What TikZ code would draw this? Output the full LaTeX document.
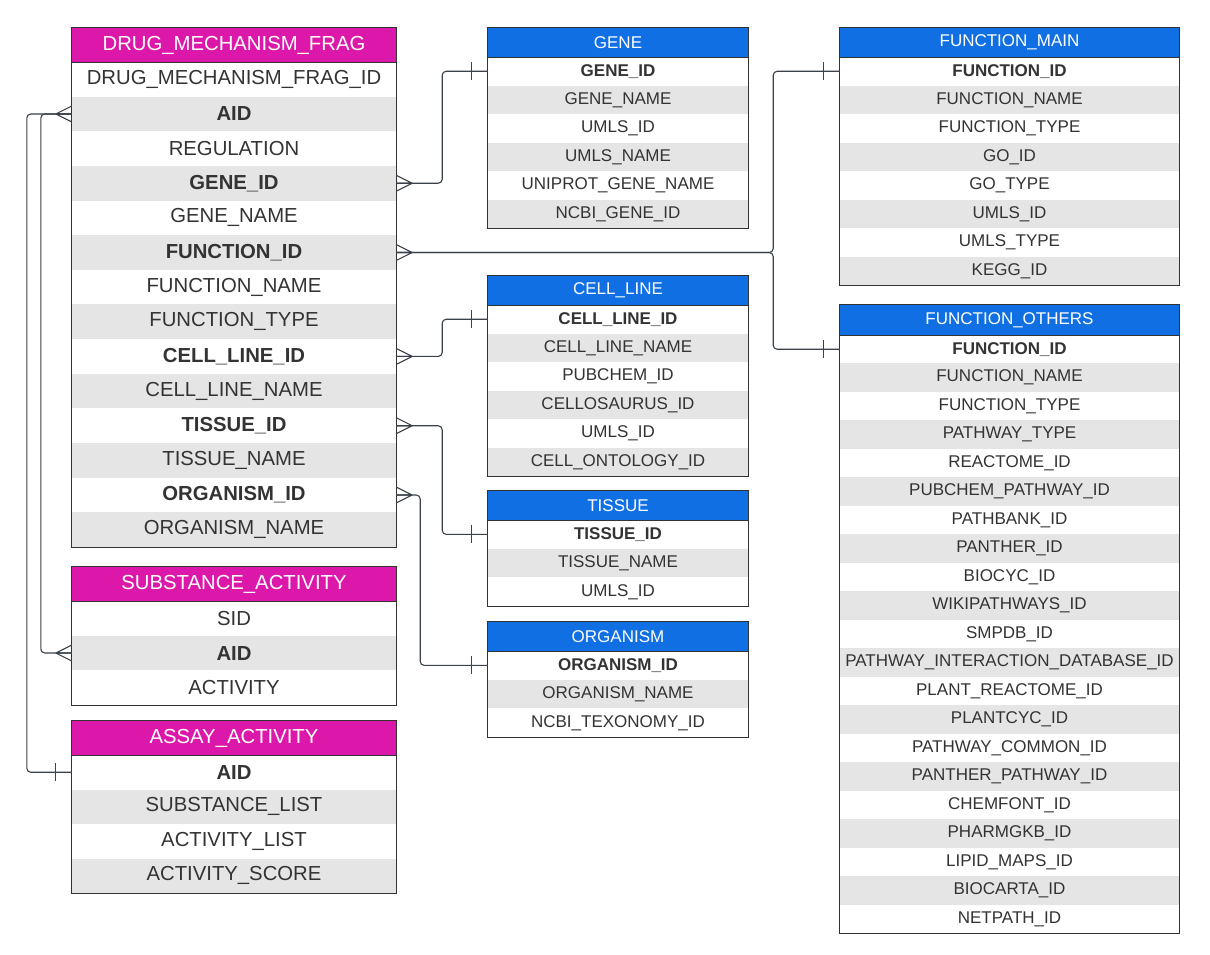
\documentclass[tikz,border=0pt]{standalone}
\usepackage{fontspec}
\setmainfont{Liberation Sans}
\usetikzlibrary{calc}
\definecolor{magh}{RGB}{219,24,170}
\definecolor{blueh}{RGB}{16,112,227}
\definecolor{rowgray}{RGB}{229,229,229}
\definecolor{txt}{RGB}{51,51,51}
\definecolor{bord}{RGB}{51,51,51}
\definecolor{linec}{RGB}{58,65,74}
\def\tabfont{\fontsize{17}{20}\selectfont}
\tikzset{
  hdr/.style={inner sep=0pt, text=white, font=\tabfont, draw=none},
  cell/.style={inner sep=0pt, text=txt, font=\tabfont, draw=none},
  tabborder/.style={draw=bord, line width=1.1pt},
  conn/.style={draw=linec, line width=1.1pt, rounded corners=4pt},
  markl/.style={draw=linec, line width=1.1pt},
}
\newcommand{\ertable}[9]{%
  \node[hdr, fill=#7, minimum width=#4pt, minimum height=#5pt] (#1-h) at ({#2+#4/2},{#3+#5/2}) {#8};
  \foreach \t [count=\i] in {#9} {%
    \ifodd\i \def\fc{white}\else \def\fc{rowgray}\fi
    \node[cell, fill=\fc, minimum width=#4pt, minimum height=#6pt] (#1-\i) at ({#2+#4/2},{#3+#5+(\i-0.5)*#6}) {\t};
    \xdef\lastrow{\i}%
  }
  \draw[tabborder] (#1-h.north west) rectangle (#1-\lastrow.south east);
  \draw[tabborder] (#1-h.south west) -- (#1-h.south east);
}
\newcommand{\crowR}[1]{\draw[markl] ($(#1)+(16,0)$) -- ($(#1)+(0,-8)$) ($(#1)+(16,0)$) -- (#1) ($(#1)+(16,0)$) -- ($(#1)+(0,8)$);}
\newcommand{\crowL}[1]{\draw[markl] ($(#1)+(-16,0)$) -- ($(#1)+(0,-8)$) ($(#1)+(-16,0)$) -- (#1) ($(#1)+(-16,0)$) -- ($(#1)+(0,8)$);}
\newcommand{\barW}[1]{\draw[markl] ($(#1)+(-16,-9)$) -- ($(#1)+(-16,9)$);}
\begin{document}
\begin{tikzpicture}[x=1pt,y=-1pt]
\useasboundingbox[fill=white] (0,0) rectangle (1210,954);

% left tables
\def\tabfont{\fontsize{20.3}{24}\selectfont}
\ertable{dmf}{72}{28}{324}{34}{34.64}{magh}{DRUG\_MECHANISM\_FRAG}{
  DRUG\_MECHANISM\_FRAG\_ID, \textbf{AID}, REGULATION, \textbf{GENE\_ID}, GENE\_NAME,
  \textbf{FUNCTION\_ID}, FUNCTION\_NAME, FUNCTION\_TYPE, \textbf{CELL\_LINE\_ID},
  CELL\_LINE\_NAME, \textbf{TISSUE\_ID}, TISSUE\_NAME, \textbf{ORGANISM\_ID}, ORGANISM\_NAME}
\ertable{sa}{72}{567}{324}{34}{34.67}{magh}{SUBSTANCE\_ACTIVITY}{
  SID, \textbf{AID}, ACTIVITY}
\ertable{aa}{72}{721}{324}{34}{34.5}{magh}{ASSAY\_ACTIVITY}{
  \textbf{AID}, SUBSTANCE\_LIST, ACTIVITY\_LIST, ACTIVITY\_SCORE}

% middle tables
\def\tabfont{\fontsize{17}{20}\selectfont}
\ertable{gene}{488}{28}{260}{29}{28.5}{blueh}{GENE}{
  \textbf{GENE\_ID}, GENE\_NAME, UMLS\_ID, UMLS\_NAME, UNIPROT\_GENE\_NAME, NCBI\_GENE\_ID}
\ertable{cl}{488}{276}{260}{29}{28.5}{blueh}{CELL\_LINE}{
  \textbf{CELL\_LINE\_ID}, CELL\_LINE\_NAME, PUBCHEM\_ID, CELLOSAURUS\_ID, UMLS\_ID, CELL\_ONTOLOGY\_ID}
\ertable{ti}{488}{491}{260}{29}{28.7}{blueh}{TISSUE}{
  \textbf{TISSUE\_ID}, TISSUE\_NAME, UMLS\_ID}
\ertable{org}{488}{622}{260}{29}{28.7}{blueh}{ORGANISM}{
  \textbf{ORGANISM\_ID}, ORGANISM\_NAME, NCBI\_TEXONOMY\_ID}

% right tables
\ertable{fm}{840}{28}{339}{29}{28.5}{blueh}{FUNCTION\_MAIN}{
  \textbf{FUNCTION\_ID}, FUNCTION\_NAME, FUNCTION\_TYPE, GO\_ID, GO\_TYPE, UMLS\_ID, UMLS\_TYPE, KEGG\_ID}
\ertable{fo}{840}{305}{339}{30}{28.48}{blueh}{FUNCTION\_OTHERS}{
  \textbf{FUNCTION\_ID}, FUNCTION\_NAME, FUNCTION\_TYPE, PATHWAY\_TYPE, REACTOME\_ID,
  PUBCHEM\_PATHWAY\_ID, PATHBANK\_ID, PANTHER\_ID, BIOCYC\_ID, WIKIPATHWAYS\_ID, SMPDB\_ID,
  PATHWAY\_INTERACTION\_DATABASE\_ID, PLANT\_REACTOME\_ID, PLANTCYC\_ID, PATHWAY\_COMMON\_ID,
  PANTHER\_PATHWAY\_ID, CHEMFONT\_ID, PHARMGKB\_ID, LIPID\_MAPS\_ID, BIOCARTA\_ID, NETPATH\_ID}

% connectors
\draw[conn] (dmf-4.east) -- ++(46,0) |- (gene-1.west);
\draw[conn] (dmf-6.east) -- ++(377,0) |- (fm-1.west);
\draw[conn] (dmf-6.east) -- ++(377,0) |- (fo-1.west);
\draw[conn] (dmf-9.east) -- ++(46,0) |- (cl-1.west);
\draw[conn] (dmf-11.east) -- ++(46,0) |- (ti-1.west);
\draw[conn] (dmf-13.east) -- ++(24,0) |- (org-1.west);
\draw[conn] (dmf-2.west) -- ++(-45,0) |- (aa-1.west);
\draw[conn] (dmf-2.west) -- ++(-31,0) |- (sa-2.west);

% many-side crow's feet
\crowR{dmf-4.east}
\crowR{dmf-6.east}
\crowR{dmf-9.east}
\crowR{dmf-11.east}
\crowR{dmf-13.east}
\crowL{dmf-2.west}
\crowL{sa-2.west}

% one-side bars
\barW{gene-1.west}
\barW{fm-1.west}
\barW{fo-1.west}
\barW{cl-1.west}
\barW{ti-1.west}
\barW{org-1.west}
\barW{aa-1.west}
\end{tikzpicture}
\end{document}
